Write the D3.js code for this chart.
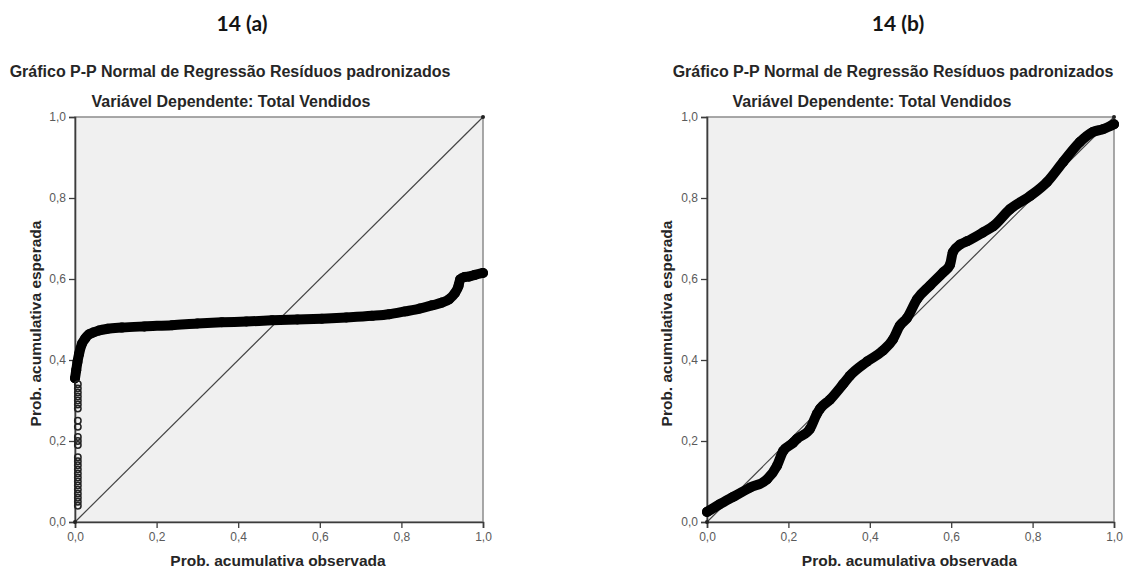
<!DOCTYPE html>
<html>
<head>
<meta charset="utf-8">
<script src="https://cdn.jsdelivr.net/npm/d3@7"></script>
<style>
  html, body { margin: 0; padding: 0; background: #ffffff; }
  svg { display: block; }
</style>
</head>
<body>
<svg id="chart" width="1126" height="572"></svg>
<script>
// Axis ticks shared by both P-P plots
const tickValues = [0, 0.2, 0.4, 0.6, 0.8, 1.0];

// Panel (a): observed vs expected cumulative probability (filled run)
const aObserved = [0.0, 0.003, 0.006, 0.01, 0.017, 0.025, 0.034, 0.045, 0.059, 0.08, 0.115, 0.17, 0.238, 0.3, 0.36, 0.42, 0.483, 0.545, 0.605, 0.665, 0.728, 0.77, 0.809, 0.845, 0.875, 0.9, 0.917, 0.931, 0.94, 0.944, 0.955, 0.966, 0.98, 1.0];
const aExpected = [0.355, 0.375, 0.395, 0.415, 0.44, 0.453, 0.463, 0.468, 0.473, 0.477, 0.48, 0.483, 0.486, 0.49, 0.493, 0.495, 0.498, 0.5, 0.502, 0.505, 0.509, 0.513, 0.52, 0.527, 0.535, 0.542, 0.55, 0.565, 0.583, 0.599, 0.605, 0.606, 0.61, 0.615];

// Panel (a): sparse low residuals stacked on the left edge (open markers)
const aLowObserved = [0.007, 0.007, 0.007, 0.007, 0.007, 0.007, 0.007, 0.007, 0.007, 0.007, 0.007, 0.007, 0.007, 0.007, 0.007, 0.007, 0.007, 0.007, 0.007, 0.007, 0.007, 0.007, 0.007, 0.007, 0.007];
const aLowExpected = [0.04, 0.05, 0.06, 0.07, 0.08, 0.09, 0.1, 0.11, 0.12, 0.13, 0.14, 0.15, 0.16, 0.19, 0.2, 0.21, 0.235, 0.25, 0.28, 0.29, 0.3, 0.31, 0.32, 0.33, 0.34];

// Panel (b): observed vs expected cumulative probability
const bObserved = [0.0, 0.03, 0.064, 0.106, 0.147, 0.172, 0.187, 0.211, 0.221, 0.253, 0.27, 0.278, 0.302, 0.334, 0.351, 0.393, 0.432, 0.457, 0.474, 0.491, 0.516, 0.548, 0.58, 0.597, 0.604, 0.622, 0.639, 0.678, 0.703, 0.744, 0.794, 0.835, 0.875, 0.916, 0.948, 0.973, 1.0];
const bExpected = [0.025, 0.043, 0.062, 0.085, 0.105, 0.139, 0.175, 0.195, 0.205, 0.23, 0.267, 0.28, 0.302, 0.34, 0.361, 0.396, 0.423, 0.451, 0.485, 0.503, 0.55, 0.584, 0.616, 0.635, 0.666, 0.685, 0.693, 0.715, 0.73, 0.772, 0.805, 0.839, 0.889, 0.938, 0.963, 0.97, 0.982];

// Text
const headings = ["14 (a)", "14 (b)"];
const chartTitle = "Gráfico P-P Normal de Regressão Resíduos padronizados";
const chartSubtitle = "Variável Dependente: Total Vendidos";
const xTitle = "Prob. acumulativa observada";
const yTitle = "Prob. acumulativa esperada";

const svg = d3.select("#chart");
const fmt = v => d3.format(".1f")(v).replace(".", ",");

const panels = [
  {
    heading: headings[0], headingX: 242, titleX: 230, subtitleX: 231,
    x0: 75, x1: 483, y0: 522, y1: 117, yLabelX: 41,
    main: d3.zip(aObserved, aExpected),
    open: d3.zip(aLowObserved, aLowExpected)
  },
  {
    heading: headings[1], headingX: 898, titleX: 893, subtitleX: 872,
    x0: 707, x1: 1114, y0: 522, y1: 117, yLabelX: 672,
    main: d3.zip(bObserved, bExpected),
    open: []
  }
];

panels.forEach(p => {
  const x = d3.scaleLinear().domain([0, 1]).range([p.x0, p.x1]);
  const y = d3.scaleLinear().domain([0, 1]).range([p.y0, p.y1]);
  const g = svg.append("g");

  // headings
  g.append("text")
    .attr("x", p.headingX).attr("y", 31)
    .attr("text-anchor", "middle")
    .style("font-family", "Lato, 'Open Sans', sans-serif")
    .style("font-weight", "bold").style("font-size", "21px")
    .style("fill", "#141414")
    .text(p.heading);

  g.append("text")
    .attr("x", p.titleX).attr("y", 77)
    .attr("text-anchor", "middle")
    .style("font-family", "'Liberation Sans', Arial, sans-serif")
    .style("font-weight", "bold").style("font-size", "16px")
    .style("fill", "#262626")
    .text(chartTitle);

  g.append("text")
    .attr("x", p.subtitleX).attr("y", 107)
    .attr("text-anchor", "middle")
    .style("font-family", "'Liberation Sans', Arial, sans-serif")
    .style("font-weight", "bold").style("font-size", "16px")
    .style("fill", "#262626")
    .text(chartSubtitle);

  // plot area
  g.append("rect")
    .attr("x", x(0)).attr("y", y(1))
    .attr("width", x(1) - x(0)).attr("height", y(0) - y(1))
    .attr("fill", "#f0f0f0")
    .attr("stroke", "#8c8c8c").attr("stroke-width", 1.5);

  // axes
  const xAxis = d3.axisBottom(x).tickValues(tickValues).tickFormat(fmt).tickSize(6).tickPadding(4);
  const yAxis = d3.axisLeft(y).tickValues(tickValues).tickFormat(fmt).tickSize(6).tickPadding(3);

  const gx = g.append("g").attr("transform", `translate(0,${y(0)})`).call(xAxis);
  const gy = g.append("g").attr("transform", `translate(${x(0)},0)`).call(yAxis);
  [gx, gy].forEach(a => {
    a.select(".domain").attr("stroke", "#3c3c3c").attr("stroke-width", 1.6);
    a.selectAll(".tick line").attr("stroke", "#3c3c3c").attr("stroke-width", 1.3);
    a.selectAll(".tick text")
      .style("font-family", "'Liberation Sans', Arial, sans-serif")
      .style("font-size", "12px")
      .style("fill", "#5a5a5a");
  });

  // axis titles
  g.append("text")
    .attr("x", (x(0) + x(1)) / 2 - 1).attr("y", 566)
    .attr("text-anchor", "middle")
    .style("font-family", "'Liberation Sans', Arial, sans-serif")
    .style("font-weight", "bold").style("font-size", "15.5px")
    .style("fill", "#262626")
    .text(xTitle);

  g.append("text")
    .attr("transform", `translate(${p.yLabelX},${(y(0) + y(1)) / 2 + 4}) rotate(-90)`)
    .attr("text-anchor", "middle")
    .style("font-family", "'Liberation Sans', Arial, sans-serif")
    .style("font-weight", "bold").style("font-size", "15.5px")
    .style("fill", "#262626")
    .text(yTitle);

  // reference diagonal
  g.append("line")
    .attr("x1", x(0)).attr("y1", y(0))
    .attr("x2", x(1)).attr("y2", y(1))
    .attr("stroke", "#444").attr("stroke-width", 1.2);
  g.selectAll(".endpt").data([0, 1]).enter().append("circle")
    .attr("cx", d => x(d)).attr("cy", d => y(d)).attr("r", 2)
    .attr("fill", "#222");

  // dense run of observations
  const line = d3.line().x(d => x(d[0])).y(d => y(d[1])).curve(d3.curveMonotoneX);
  g.append("path")
    .datum(p.main)
    .attr("d", line)
    .attr("fill", "none")
    .attr("stroke", "#000")
    .attr("stroke-width", 10)
    .attr("stroke-linecap", "round")
    .attr("stroke-linejoin", "round");
  g.selectAll(".pt").data(p.main).enter().append("circle")
    .attr("cx", d => x(d[0])).attr("cy", d => y(d[1])).attr("r", 5)
    .attr("fill", "#000");

  // sparse open markers
  g.selectAll(".open").data(p.open).enter().append("circle")
    .attr("cx", d => x(d[0])).attr("cy", d => y(d[1])).attr("r", 3.2)
    .attr("fill", "none")
    .attr("stroke", "#222").attr("stroke-width", 1.5);
});
</script>
</body>
</html>
